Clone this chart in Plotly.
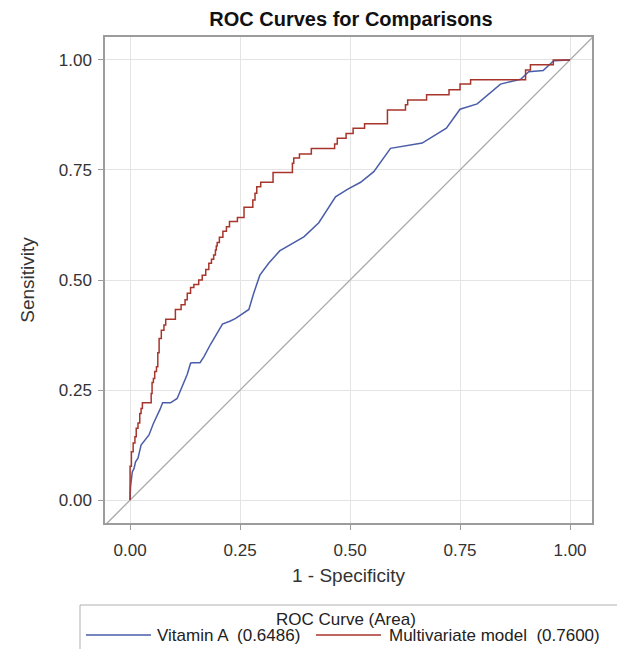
import plotly.graph_objects as go

# ---------------- data ----------------
vitA_name = "Vitamin A  (0.6486)"
multi_name = "Multivariate model  (0.7600)"
legend_title = "ROC Curve (Area)"

vitA_fpr = [0.0, 0.001, 0.005, 0.009, 0.0125, 0.018, 0.025, 0.037, 0.043, 0.053, 0.06, 0.068,
            0.074, 0.092, 0.107, 0.115, 0.122, 0.13, 0.1375, 0.141, 0.159, 0.168, 0.183, 0.198,
            0.21, 0.228, 0.24, 0.27, 0.281, 0.295, 0.315, 0.34, 0.365, 0.395, 0.429, 0.448,
            0.467, 0.494, 0.524, 0.554, 0.592, 0.664, 0.719, 0.75, 0.789, 0.842, 0.888, 0.906,
            0.939, 0.963, 1.0]
vitA_tpr = [0.0, 0.03, 0.064, 0.072, 0.087, 0.095, 0.125, 0.14, 0.148, 0.174, 0.188, 0.206,
            0.221, 0.221, 0.231, 0.25, 0.265, 0.286, 0.311, 0.312, 0.312, 0.326, 0.354, 0.379,
            0.4, 0.407, 0.413, 0.433, 0.47, 0.511, 0.538, 0.566, 0.58, 0.598, 0.63, 0.659,
            0.689, 0.706, 0.722, 0.746, 0.799, 0.811, 0.845, 0.888, 0.9, 0.945, 0.956, 0.973,
            0.976, 0.998, 1.0]

# staircase vertices of the multivariate ROC curve: (fpr step position, tpr reached)
multi_steps_fpr = [0.0, 0.003, 0.007, 0.011, 0.014, 0.018, 0.022, 0.025, 0.028, 0.048, 0.05,
                   0.053, 0.056, 0.06, 0.063, 0.066, 0.071, 0.077, 0.081, 0.103, 0.116, 0.125,
                   0.13, 0.1375, 0.145, 0.156, 0.164, 0.172, 0.179, 0.185, 0.19, 0.194, 0.196,
                   0.198, 0.203, 0.211, 0.219, 0.226, 0.244, 0.259, 0.279, 0.284, 0.288, 0.297,
                   0.325, 0.369, 0.372, 0.385, 0.412, 0.465, 0.471, 0.491, 0.507, 0.533, 0.585,
                   0.626, 0.631, 0.674, 0.725, 0.75, 0.774, 0.899, 0.91, 0.962, 1.0]
multi_steps_tpr = [0.077, 0.11, 0.13, 0.144, 0.163, 0.175, 0.197, 0.208, 0.221, 0.242, 0.267,
                   0.276, 0.292, 0.303, 0.335, 0.367, 0.386, 0.398, 0.411, 0.433, 0.444, 0.455,
                   0.47, 0.483, 0.49, 0.5, 0.511, 0.524, 0.538, 0.547, 0.557, 0.568, 0.577,
                   0.585, 0.597, 0.611, 0.621, 0.633, 0.642, 0.665, 0.682, 0.697, 0.712, 0.722,
                   0.744, 0.765, 0.777, 0.786, 0.799, 0.809, 0.822, 0.833, 0.845, 0.855, 0.886,
                   0.898, 0.909, 0.921, 0.932, 0.945, 0.955, 0.977, 0.989, 1.0, 1.0]

ref_line = [-0.2, 1.2]
tick_vals = [0.0, 0.25, 0.5, 0.75, 1.0]
tick_text = ["0.00", "0.25", "0.50", "0.75", "1.00"]

# build staircase path
multi_fpr, multi_tpr = [0.0], [0.0]
prev_y = 0.0
for fx, ty in zip(multi_steps_fpr, multi_steps_tpr):
    multi_fpr.append(fx); multi_tpr.append(prev_y)
    multi_fpr.append(fx); multi_tpr.append(ty)
    prev_y = ty

BLUE = "#4A5DA8"
RED = "#A8352B"
GREY = "#A8A8A8"
FONT = "Liberation Sans, Arial, sans-serif"

# the page body has an 8px margin; work in page pixels and convert
OFF = 8
FIG_W, FIG_H = 625 - OFF, 649 - OFF
L, T, R, B = 105, 37, 592, 523       # plot area in page pixels
W, H = R - L, B - T

fig = go.Figure()
fig.add_trace(go.Scatter(x=ref_line, y=ref_line, mode="lines",
                         line=dict(color=GREY, width=1.3), showlegend=False, hoverinfo="skip"))
fig.add_trace(go.Scatter(x=vitA_fpr, y=vitA_tpr, mode="lines", name=vitA_name,
                         line=dict(color=BLUE, width=1.5), showlegend=False))
fig.add_trace(go.Scatter(x=multi_fpr, y=multi_tpr, mode="lines", name=multi_name,
                         line=dict(color=RED, width=1.5), showlegend=False))

axis_common = dict(showline=True, mirror=True, linecolor="#9C9C9C", linewidth=1.5,
                   ticks="outside", ticklen=5, tickcolor="#9C9C9C", tickwidth=1,
                   showgrid=True, gridcolor="#E4E4E4", gridwidth=1.3, zeroline=False,
                   tickvals=tick_vals, ticktext=tick_text,
                   tickfont=dict(family=FONT, size=17, color="#333333"))

fig.update_xaxes(range=[-0.057, 1.05], **axis_common, ticklabelstandoff=6,
                 title=dict(text="1 - Specificity", font=dict(family=FONT, size=19, color="#333333"),
                            standoff=10))
fig.update_yaxes(range=[-0.052, 1.052], **axis_common, ticklabelstandoff=3,
                 title=dict(text="Sensitivity", font=dict(family=FONT, size=19, color="#333333"),
                            standoff=19))

def px(x): return (x - L) / W
def py(y): return (B - y) / H

LEG_FS = 17
fig.add_shape(type="rect", xref="paper", yref="paper",
              x0=px(80), x1=px(622), y0=py(605), y1=py(665),
              line=dict(color="#B0B0B0", width=1), fillcolor="white", layer="below")
fig.add_annotation(xref="paper", yref="paper", x=px(346), y=py(619), text=legend_title,
                   showarrow=False, font=dict(family=FONT, size=LEG_FS, color="#222222"),
                   xanchor="center", yanchor="middle")
fig.add_shape(type="line", xref="paper", yref="paper", x0=px(86), x1=px(151),
              y0=py(635), y1=py(635), line=dict(color=BLUE, width=1.5))
fig.add_annotation(xref="paper", yref="paper", x=px(155), y=py(635), text=vitA_name,
                   showarrow=False, font=dict(family=FONT, size=LEG_FS, color="#222222"),
                   xanchor="left", yanchor="middle")
fig.add_shape(type="line", xref="paper", yref="paper", x0=px(316), x1=px(381),
              y0=py(635), y1=py(635), line=dict(color=RED, width=1.5))
fig.add_annotation(xref="paper", yref="paper", x=px(387), y=py(635), text=multi_name,
                   showarrow=False, font=dict(family=FONT, size=LEG_FS, color="#222222"),
                   xanchor="left", yanchor="middle")

fig.update_layout(
    width=FIG_W, height=FIG_H,
    margin=dict(l=L - OFF, r=625 - R, t=T - OFF, b=649 - B),
    paper_bgcolor="white", plot_bgcolor="white",
    title=dict(text="<b>ROC Curves for Comparisons</b>", x=px(351), xref="paper",
               xanchor="center", y=1 - 4 / FIG_H, yanchor="top",
               font=dict(family=FONT, size=20, color="#111111")),
    showlegend=False,
)

fig.write_html("out.html")
